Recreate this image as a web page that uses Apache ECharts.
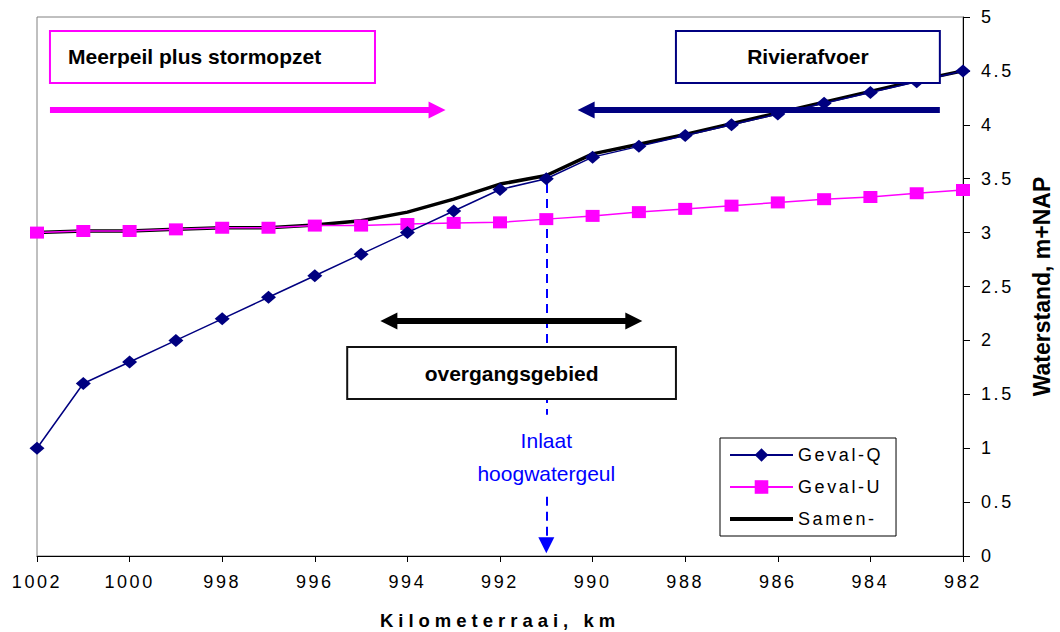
<!DOCTYPE html>
<html>
<head>
<meta charset="utf-8">
<script src="https://cdn.jsdelivr.net/npm/echarts@6/dist/echarts.min.js"></script>
<style>
html,body{margin:0;padding:0;background:#fff;}
#chart{width:1060px;height:632px;}
#chart text[style*="Liberation Sans"]{letter-spacing:2.6px;}
#chart text[style*="Liberation Sans"][style*="bold"]{letter-spacing:5px;}
</style>
</head>
<body>
<div id="chart"></div>
<script>
// ---- data ----
const km = [1002,1001,1000,999,998,997,996,995,994,993,992,991,990,989,988,987,986,985,984,983,982];
const gevalQ = [1.0,1.6,1.8,2.0,2.2,2.4,2.6,2.8,3.0,3.2,3.4,3.5,3.7,3.8,3.9,4.0,4.1,4.2,4.3,4.4,4.5];
const gevalU = [3.0,3.015,3.015,3.03,3.045,3.045,3.065,3.065,3.08,3.09,3.095,3.125,3.155,3.19,3.22,3.25,3.28,3.31,3.33,3.365,3.395];
const samen  = [3.0,3.015,3.015,3.03,3.045,3.045,3.07,3.11,3.19,3.31,3.45,3.53,3.73,3.82,3.91,4.01,4.11,4.21,4.31,4.41,4.5];
const seriesNames = ['Geval-Q','Geval-U','Samen-'];
const boxTexts = ['Meerpeil plus stormopzet','Rivierafvoer','overgangsgebied'];
const inlaatText = 'Inlaat\nhoogwatergeul';

const pairs = arr => km.map((k,i)=>[k,arr[i]]);
const SPACED = 'Liberation Sans';
const PLAIN = 'Arial';

const chart = echarts.init(document.getElementById('chart'), null, {renderer:'svg'});
const option = {
  animation:false,
  backgroundColor:'#fff',
  grid:{left:37,right:97,top:17,bottom:76,show:true,borderColor:'#808080',borderWidth:1,
        backgroundColor:'transparent',containLabel:false,outerBoundsMode:'none'},
  legend:{
    data:[
      {name:seriesNames[0]},
      {name:seriesNames[1]},
      {name:seriesNames[2],itemStyle:{opacity:0},lineStyle:{width:4,color:'#000'}}
    ],
    orient:'vertical', left:720, top:438,
    itemWidth:63, itemHeight:17, itemGap:14,
    padding:[8,31,8,8], borderColor:'#000', borderWidth:1, backgroundColor:'#fff',
    textStyle:{fontFamily:SPACED,fontSize:18,color:'#000',lineHeight:18},
    selectedMode:false
  },
  xAxis:{
    type:'value', min:982, max:1002, interval:2, inverse:true,
    name:'Kilometerraai, km', nameLocation:'middle', nameGap:55,
    nameTextStyle:{fontFamily:SPACED,fontWeight:'bold',fontSize:18.5,color:'#000'},
    axisLine:{lineStyle:{color:'#000',width:1}},
    axisTick:{show:true,length:6,inside:false,lineStyle:{color:'#000'}},
    axisLabel:{fontFamily:SPACED,fontSize:18,color:'#000',margin:17,formatter:v=>String(v)},
    splitLine:{show:false}
  },
  yAxis:{
    type:'value', position:'right', min:0, max:5, interval:0.5,
    name:'Waterstand, m+NAP', nameLocation:'middle', nameRotate:90, nameGap:67,
    nameTextStyle:{fontFamily:PLAIN,fontWeight:'bold',fontSize:23,color:'#000'},
    axisLine:{show:true,lineStyle:{color:'#000',width:1}},
    axisTick:{show:true,length:7,lineStyle:{color:'#000'}},
    axisLabel:{fontFamily:SPACED,fontSize:18,color:'#000',margin:18,formatter:v=>String(v)},
    splitLine:{show:false}
  },
  series:[
    {
      name:'Samen-', type:'line', data:pairs(samen), z:3,
      showSymbol:false, symbol:'none',
      lineStyle:{color:'#000',width:3.5}, itemStyle:{color:'#000'}
    },
    {
      name:'Geval-U', type:'line', data:pairs(gevalU), z:4,
      symbol:'rect', symbolSize:[14,12], showAllSymbol:true,
      lineStyle:{color:'#ff00ff',width:1.5}, itemStyle:{color:'#ff00ff'}
    },
    {
      name:'Geval-Q', type:'line', data:pairs(gevalQ), z:5,
      symbol:'diamond', symbolSize:[15,13], showAllSymbol:true,
      lineStyle:{color:'#000080',width:1.5}, itemStyle:{color:'#000080'}
    },
    {
      name:'inlaat', type:'line', data:[], z:2, silent:true,
      markLine:{
        z:2, silent:true, animation:false,
        label:{show:false},
        lineStyle:{color:'#0000ff',width:2,type:[9,6]},
        emphasis:{disabled:true},
        data:[
          [{coord:[991,3.45],symbol:'none'},{coord:[991,1.31],symbol:'none'}],
          [{coord:[991,0.55],symbol:'none'},{coord:[991,0.10],symbol:'triangle',symbolSize:16}]
        ]
      },
      markPoint:{
        z:2, silent:true, animation:false,
        symbol:'rect', symbolSize:1, itemStyle:{color:'rgba(0,0,0,0)'},
        label:{show:true,position:'inside',formatter:inlaatText,color:'#0000ff',fontFamily:PLAIN,fontSize:21,lineHeight:33},
        data:[{coord:[991,0.92]}]
      }
    },
    {
      name:'annot', type:'line', data:[], z:10, silent:true,
      markArea:{
        z:20, silent:true,
        emphasis:{disabled:true},
        label:{show:true,color:'#000',fontFamily:PLAIN,fontWeight:'bold',fontSize:21},
        data:[
          [{coord:[1001.72,4.87],itemStyle:{color:'#fff',borderColor:'#ff00ff',borderWidth:2,opacity:1},
            label:{formatter:boxTexts[0],position:'insideLeft',distance:19}},
           {coord:[994.70,4.388]}],
          [{coord:[988.20,4.87],itemStyle:{color:'#fff',borderColor:'#000080',borderWidth:2,opacity:1},
            label:{formatter:boxTexts[1],position:'inside'}},
           {coord:[982.50,4.388]}],
          [{coord:[995.30,1.939],itemStyle:{color:'#fff',borderColor:'#111',borderWidth:2,opacity:1},
            label:{formatter:boxTexts[2],position:'inside'}},
           {coord:[988.20,1.456]}]
        ]
      },
      markLine:{
        z:21, silent:true, animation:false,
        label:{show:false},
        emphasis:{disabled:true},
        symbolSize:17,
        data:[
          [{coord:[1001.72,4.137],symbol:'none',lineStyle:{color:'#ff00ff',width:6,type:'solid'}},
           {coord:[993.36,4.137],symbol:'triangle'}],
          [{coord:[982.50,4.137],symbol:'none',lineStyle:{color:'#000080',width:6,type:'solid'}},
           {coord:[990.14,4.137],symbol:'triangle'}],
          [{coord:[994.40,2.18],symbol:'triangle',lineStyle:{color:'#000',width:6,type:'solid'}},
           {coord:[989.11,2.18],symbol:'triangle'}]
        ]
      }
    }
  ]
};
chart.setOption(option);
</script>
</body>
</html>
